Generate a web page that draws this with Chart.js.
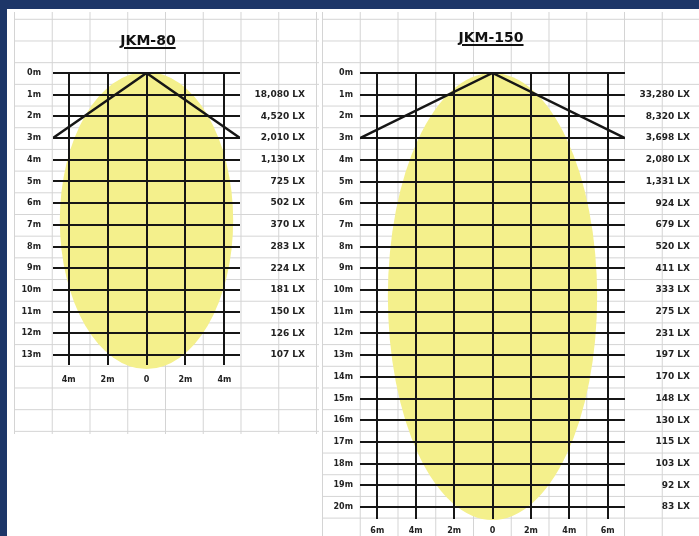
<!DOCTYPE html>
<html>
<head>
<meta charset="utf-8">
<script src="https://cdn.jsdelivr.net/npm/chart.js@4.4.1/dist/chart.umd.min.js"></script>
<style>
  html, body { margin: 0; padding: 0; }
  body { width: 699px; height: 536px; position: relative; overflow: hidden; background: #fff; }
  .frame-top { position: absolute; left: 0; top: 0; width: 699px; height: 9px; background: #1d3668; }
  .frame-left { position: absolute; left: 0; top: 0; width: 7px; height: 536px; background: #1d3668; }
  .sheet {
    position: absolute;
    background-color: #fff;
    background-image:
      linear-gradient(to right, #d4d4d4 1px, transparent 1px),
      linear-gradient(to bottom, #d4d4d4 1px, transparent 1px);
    background-size: 37.75px 100%, 100% 21.7px;
    background-position: 0 0, 0 6.8px;
  }
  #sheetA { left: 14px; top: 12px; width: 305px; height: 422px; }
  #sheetB { left: 322px; top: 12px; width: 377px; height: 524px; }
  canvas { position: absolute; top: 0; }
  #chartA { left: 0; }
  #chartB { left: 320px; }
  .title {
    position: absolute; width: 160px; text-align: center;
    font: bold 14px "DejaVu Sans", sans-serif; color: #111;
    text-decoration: underline; text-decoration-thickness: 2px; text-underline-offset: 2px;
  }
  #titleA { left: 68px; top: 32px; }
  #titleB { left: 411px; top: 29px; }
</style>
</head>
<body>
<div class="frame-top"></div>
<div class="frame-left"></div>
<div class="sheet" id="sheetA"></div>
<div class="sheet" id="sheetB"></div>
<canvas id="chartA" width="320" height="440"></canvas>
<canvas id="chartB" width="379" height="536"></canvas>
<div class="title" id="titleA">JKM-80</div>
<div class="title" id="titleB">JKM-150</div>
<script>
// JKM-80: illuminance at each metre of distance (1m .. 13m)
const luxLabelsA = ['18,080 LX', '4,520 LX', '2,010 LX', '1,130 LX', '725 LX', '502 LX', '370 LX',
  '283 LX', '224 LX', '181 LX', '150 LX', '126 LX', '107 LX'];
// beam edge line: lateral metres / depth metres
const edgeXA = [-4.8, 0, 4.8];
const edgeYA = [3, 0, 3];
// light spot: centre x, centre depth, half width, half depth (metres)
const beamA = [0, 6.8, 4.45, 6.85];

// JKM-150: illuminance at each metre of distance (1m .. 20m)
const luxLabelsB = ['33,280 LX', '8,320 LX', '3,698 LX', '2,080 LX', '1,331 LX', '924 LX', '679 LX',
  '520 LX', '411 LX', '333 LX', '275 LX', '231 LX', '197 LX', '170 LX', '148 LX', '130 LX',
  '115 LX', '103 LX', '92 LX', '83 LX'];
const edgeXB = [-6.9, 0, 6.9];
const edgeYB = [3, 0, 3];
const beamB = [0, 10.3, 5.45, 10.3];

const INK = '#161616';
const TEXT = '#222';

const beamPlugin = {
  id: 'beam',
  beforeDraw(chart, args, opts) {
    const { ctx, scales: { x, y } } = chart;
    const [cx, cy, rx, ry] = opts.shape;
    const px = x.getPixelForValue(cx);
    const py = y.getPixelForValue(cy);
    const prx = Math.abs(x.getPixelForValue(cx + rx) - px);
    const pry = Math.abs(y.getPixelForValue(cy + ry) - py);
    ctx.save();
    ctx.fillStyle = opts.color;
    ctx.beginPath();
    ctx.ellipse(px, py, prx, pry, 0, 0, Math.PI * 2);
    ctx.fill();
    ctx.restore();
  },
};

function makeChart(id, cfg) {
  const mFont = { family: 'DejaVu Sans', weight: 'bold', size: 8 };
  const luxFont = { family: 'DejaVu Sans', weight: 'bold', size: 9 };
  return new Chart(document.getElementById(id), {
    type: 'scatter',
    data: {
      datasets: [{
        data: cfg.edgeX.map((v, i) => ({ x: v, y: cfg.edgeY[i] })),
        showLine: true,
        borderColor: INK,
        borderWidth: 2.5,
        pointRadius: 0,
      }],
    },
    options: {
      responsive: false,
      animation: false,
      layout: { padding: cfg.padding },
      plugins: {
        legend: { display: false },
        tooltip: { enabled: false },
        beam: { shape: cfg.beam, color: '#f4f08c' },
      },
      scales: {
        x: {
          type: 'linear',
          min: -cfg.xMax,
          max: cfg.xMax,
          border: { display: false },
          grid: { color: INK, lineWidth: 2, tickLength: cfg.tickLength },
          ticks: {
            stepSize: 2,
            includeBounds: false,
            padding: cfg.xPad,
            color: TEXT,
            font: mFont,
            callback: (v) => (v === 0 ? '0' : Math.abs(v) + 'm'),
          },
          afterFit(scale) { scale.height = cfg.xHeight; },
        },
        y: {
          type: 'linear',
          reverse: true,
          min: 0,
          max: cfg.yMax,
          border: { display: false },
          grid: { color: INK, lineWidth: 2, drawTicks: false },
          ticks: {
            stepSize: 1,
            autoSkip: false,
            padding: cfg.yPad,
            color: TEXT,
            font: mFont,
            callback: (v) => v + 'm',
          },
          afterFit(scale) { scale.width = cfg.yWidth; },
        },
        y2: {
          type: 'linear',
          position: 'right',
          reverse: true,
          min: 0,
          max: cfg.yMax,
          border: { display: false },
          grid: { display: false, drawTicks: false },
          ticks: {
            stepSize: 1,
            autoSkip: false,
            crossAlign: 'far',
            color: TEXT,
            font: luxFont,
            callback: (v) => cfg.lux[v - 1] || '',
          },
          afterFit(scale) { scale.width = cfg.luxWidth; },
        },
      },
    },
    plugins: [beamPlugin],
  });
}

makeChart('chartA', {
  lux: luxLabelsA, edgeX: edgeXA, edgeY: edgeYA, beam: beamA,
  xMax: 4.8, yMax: 13,
  padding: { top: 73, left: 0, right: 15, bottom: 45 },
  yWidth: 53, luxWidth: 65, xHeight: 40, tickLength: 10, xPad: 10, yPad: 12,
});

makeChart('chartB', {
  lux: luxLabelsB, edgeX: edgeXB, edgeY: edgeYB, beam: beamB,
  xMax: 6.9, yMax: 20,
  padding: { top: 73, left: 0, right: 9, bottom: 0 },
  yWidth: 40, luxWidth: 65, xHeight: 29, tickLength: 12, xPad: 7, yPad: 7,
});
</script>
</body>
</html>
